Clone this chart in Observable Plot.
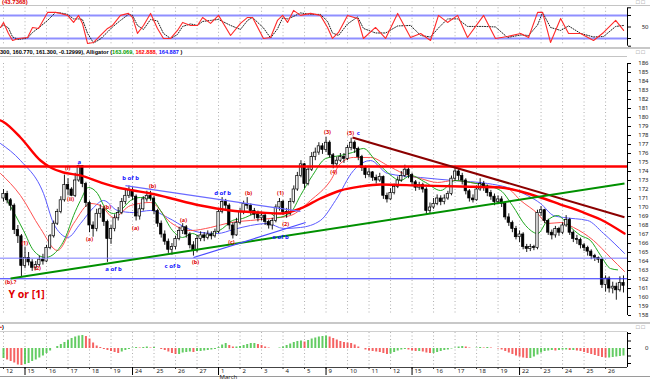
<!DOCTYPE html>
<html><head><meta charset="utf-8">
<script src="https://cdn.jsdelivr.net/npm/d3@7"></script>
<script src="https://cdn.jsdelivr.net/npm/@observablehq/plot@0.6"></script>
<style>
body{margin:0;background:#fff;}
#root{position:relative;width:650px;height:381px;overflow:hidden;background:#fff;font-family:"Liberation Sans",Arial,sans-serif;}
.t{position:absolute;white-space:nowrap;font-weight:bold;}
.ln{position:absolute;}
</style></head><body><div id="root"></div>
<script>
// ---------- data ----------
const dayLabels = ["12","15","16","17","18","19","24","25","26","27","1","2","3","4","5","9","10","11","12","15","16","17","18","19","22","23","24","25","26"];
const weekStarts = [1,6,10,15,19,24];
const marchIndex = 10;

const firstOpen = 171.0;
const closeP = [
171.5,170.8,170.2,167.5,166.8,163.5,164.4,163.9,163.3,163.6,
164.2,164.0,165.5,166.8,168.2,169.5,170.8,172.5,172.0,171.3,
173.0,174.6,172.6,170.5,168.0,167.6,169.3,169.8,168.4,166.5,
167.6,168.8,169.4,170.6,171.3,171.9,171.2,169.0,169.8,170.9,
171.3,171.0,169.6,168.2,167.0,166.2,165.3,165.6,166.5,167.4,
167.8,167.0,165.8,165.2,166.5,166.9,166.6,167.0,166.8,167.3,
169.5,170.6,170.2,168.0,166.9,168.3,169.5,170.4,170.2,169.6,
169.2,168.8,169.1,168.4,168.0,168.5,170.0,170.6,169.5,169.3,
170.6,172.0,173.5,174.8,172.6,174.2,175.6,176.1,176.8,176.4,
177.2,175.8,174.8,175.2,175.6,175.4,176.6,177.2,176.5,175.6,
174.4,173.6,173.9,173.3,173.0,173.4,171.3,170.9,171.6,172.3,
173.0,173.5,174.2,173.6,172.8,172.2,172.5,172.0,169.6,170.0,
170.4,171.0,170.6,171.0,171.5,173.2,174.0,173.5,173.0,171.8,
171.0,170.8,172.0,172.6,172.2,171.6,171.2,170.6,170.9,170.4,
168.9,168.3,167.6,166.7,167.0,165.6,165.4,165.6,165.5,169.4,
169.7,168.5,167.2,166.9,167.6,167.2,168.0,168.6,167.2,166.5,
166.4,165.8,165.5,165.1,164.6,164.4,164.2,161.4,162.1,161.0,
161.2,160.8,161.6,161.3];
const highP = [
172.0,171.8,171.0,170.4,168.0,167.0,165.6,165.0,164.2,164.0,
164.6,164.8,165.8,167.0,168.5,169.8,171.2,173.6,173.2,172.2,
173.8,174.7,174.5,172.8,170.7,168.4,169.8,170.3,170.1,168.6,
168.0,169.2,170.0,171.0,171.9,172.4,172.2,171.4,170.3,171.2,
171.8,171.8,171.2,169.8,168.5,167.4,166.5,166.0,166.8,167.8,
168.2,168.0,167.2,166.2,166.9,167.3,167.2,167.4,167.3,167.6,
169.9,171.1,170.9,170.4,168.3,168.8,169.9,170.7,171.1,170.4,
169.9,169.6,169.5,169.3,168.6,168.8,170.3,171.0,170.8,169.9,
171.0,172.4,173.9,175.2,174.9,174.6,176.1,176.6,177.2,177.1,
177.8,177.4,176.0,175.6,176.0,176.0,176.9,177.7,177.4,176.7,
175.8,174.6,174.3,174.0,173.6,173.8,173.5,171.6,172.1,172.6,
173.4,174.0,174.7,174.4,173.8,173.0,172.8,172.7,172.2,170.5,
171.0,171.4,171.3,171.4,171.8,173.5,174.4,174.2,173.8,173.2,
172.0,171.4,172.4,173.2,172.9,172.5,171.9,171.5,171.3,171.2,
170.6,169.3,168.5,167.9,167.4,167.2,165.9,165.9,165.8,169.7,
170.1,169.8,168.7,167.5,167.9,167.8,168.3,169.1,168.8,167.4,
166.9,166.6,166.0,165.7,165.3,164.8,164.5,164.3,162.4,162.3,
161.7,161.6,162.3,162.4];
const lowP = [
170.6,170.4,169.6,167.0,166.0,162.3,163.2,163.5,162.9,163.0,
163.4,163.6,163.9,165.3,166.6,168.0,169.3,170.6,171.3,171.2,
171.1,172.8,172.2,170.0,167.2,166.7,167.3,168.8,167.9,163.9,
165.9,167.3,168.5,169.2,170.3,171.0,170.8,168.5,168.6,169.6,
170.6,170.7,169.2,167.8,166.6,165.8,164.9,164.7,165.3,166.3,
167.0,166.6,165.4,164.6,165.0,166.2,166.2,166.4,166.4,166.6,
167.1,169.3,169.7,167.5,166.5,166.8,168.1,169.2,169.8,169.1,
168.7,168.4,168.5,168.0,167.6,167.5,168.3,169.6,169.1,168.8,
169.1,170.4,171.8,173.3,172.1,172.4,174.0,175.2,175.8,175.9,
176.1,175.5,174.3,174.5,175.0,174.9,175.2,176.3,176.0,175.2,
174.0,173.2,173.3,172.9,172.6,172.8,170.9,170.5,170.8,171.4,
172.1,172.8,173.3,173.2,172.4,171.8,171.9,171.6,169.2,169.3,
169.8,170.2,170.2,170.3,170.8,171.3,172.9,173.0,172.5,171.4,
170.6,170.5,170.7,171.8,171.8,171.2,170.8,170.2,170.3,170.0,
168.6,167.9,167.2,166.4,166.1,165.3,165.0,165.1,165.2,165.3,
169.0,168.2,166.9,166.4,166.6,166.8,167.0,167.8,166.9,166.1,
165.9,165.4,165.1,164.6,164.2,164.0,163.8,161.0,160.6,160.5,
160.4,159.7,160.6,160.5];
const barsPerDay = 6;

// long moving average (thick red)
const maDay = [-0.14,0,0.79,1.72,2.19,2.79,3.58,4.51,5.30,6.05,6.84,7.63,9.16,10.56,11.95,12.88,13.81,14.74,15.67,16.6,17.53,19.4,21.26,23.12,24.05,24.98,25.91,26.84,27.77,28.88];
const maPrice = [179.67,179.5,177.78,175.22,174.44,173.89,173.56,172.78,172.22,171.89,171.56,171.11,170.22,169.67,169.44,169.33,169.89,171.0,171.89,172.33,172.56,172.44,172.33,172.22,171.78,171.11,170.33,169.56,168.67,167.11];

// Alligator
const jawDay = [-0.14,0.79,1.86,2.33,2.65,2.98,3.58,4.19,4.65,5.30,6.05,6.84,7.63,8.56,9.16,9.95,10.70,11.49,12.28,13.02,13.81,14.74,15.44,16.28,17.07,17.86,19.40,20.93,22.51,23.44,24.37,24.98,25.58,26.05,27.16,27.91,28.88];
const jawPrice = [177.11,175.22,171.56,168.22,167.11,166.67,168.22,170.0,170.78,169.67,169.44,169.67,168.89,167.67,167.22,167.11,167.56,168.0,168.22,167.67,167.78,168.56,170.78,174.11,175.22,173.78,173.33,173.0,172.67,172.22,171.33,170.44,169.11,168.89,168.56,167.11,164.9];
const teethDay = [-0.14,0.79,1.72,2.51,3.26,4.05,4.51,5.12,5.91,6.84,7.77,8.70,9.63,10.56,11.49,12.42,13.35,14.28,15.21,15.67,16.28,17.07,17.86,18.60,19.40,20.19,20.93,21.72,22.51,23.44,24.05,24.84,25.30,25.91,26.51,27.44,28.23,28.88];
const teethPrice = [173.78,171.33,167.67,165.22,168.22,170.44,170.22,168.89,170.22,170.56,168.33,167.44,167.78,168.33,168.56,168.78,169.11,170.78,173.0,174.89,175.56,175.56,174.67,173.78,173.22,172.78,173.0,172.78,172.44,172.11,170.78,169.33,168.22,168.33,167.78,166.33,164.44,162.9];
const lipsDay = [0.09,0.56,0.93,1.40,1.95,2.42,2.88,3.26,3.58,3.95,4.37,4.74,5.12,5.44,5.91,6.37,6.84,7.30,7.86,8.33,8.79,9.16,9.49,10.19,10.65,11.12,11.72,12.33,12.74,13.35,13.81,14.37,14.98,15.67,16.23,16.74,17.30,17.86,18.47,18.93,19.63,20.33,21.02,21.72,22.42,23.12,23.67,24.28,24.84,25.30,25.77,26.28,26.84,27.30,27.77,28.23,28.56];
const lipsPrice = [171.11,169.11,167.44,165.22,164.44,165.0,166.67,169.11,170.78,172.22,171.56,169.89,169.33,169.67,170.78,171.11,171.0,169.67,167.44,166.67,167.11,166.78,166.89,167.67,168.56,168.78,169.33,169.44,168.89,169.44,171.33,173.56,175.44,175.78,176.11,176.56,175.22,173.89,173.0,173.56,172.78,171.89,173.0,172.78,172.44,171.89,170.22,168.0,167.11,168.56,169.11,168.0,166.89,166.33,164.67,163.22,163.07];

// trend lines (from -> to)
const trendNames = ["brown","green","blueUpper","blueLower"];
const trendDay1 = [16.23,0.33,5.67,8.84];
const trendPrice1 = [177.78,162.11,172.44,164.44];
const trendDay2 = [28.88,28.88,13.81,14.05];
const trendPrice2 = [168.92,172.67,169.56,168.33];

// horizontal levels
const redLevels = [174.55];
const blueLevels = [164.37,162.08];

// wave annotations
const redNoteText = ["(1)","(2)","(b).?","(i)","(ii)","(a)","(b)","(a)","(b)","(a)","(b)","(c)","(b)","(1)","(2)","(3)","(4)","(5)"];
const redNoteDay = [0.98,1.58,0.33,2.98,3.12,4.0,4.84,6.14,6.93,8.37,8.93,10.6,11.4,12.88,13.12,15.07,15.35,16.14];
const redNotePrice = [166.0,163.22,161.75,174.33,170.89,166.44,170.0,167.67,172.33,168.56,163.89,166.11,171.56,171.56,168.11,178.33,173.89,178.22];
const blueNoteText = ["a","b of b","d of b","a of b","c of b","e of b","c"];
const blueNoteDay = [3.53,5.91,10.19,5.12,7.86,12.88,16.5];
const blueNotePrice = [175.0,173.22,171.56,163.11,163.44,166.67,178.22];
const bigNote = "Y or [1]";
const bigNoteDay = 0.23;
const bigNotePrice = 160.3;

// stochastic (%K)
const stochDay = [-0.14,0,0.23,0.42,0.70,1.12,1.35,1.63,2.05,2.42,2.65,2.98,3.26,3.49,3.67,3.91,4.19,4.51,4.84,5.07,5.44,5.81,6.0,6.23,6.51,6.84,7.16,7.44,7.77,8.09,8.33,8.70,9.02,9.26,9.63,10.0,10.56,11.02,11.35,11.58,12.09,12.42,12.74,12.98,13.21,13.49,13.81,14.28,14.74,15.07,15.30,15.58,16.0,16.47,16.74,17.30,17.77,18.33,18.93,19.40,19.86,20.23,20.65,21.12,21.58,22.33,22.88,23.44,24.05,24.42,24.84,25.07,25.44,25.91,26.28,26.84,27.44,27.91,28.47,28.84];
const stochK = [48.8,61.9,33.2,14.9,20.1,22.7,48.8,46.2,88.0,88.0,85.4,80.2,61.9,80.2,59.3,7.0,9.7,27.9,46.2,54.0,80.2,85.4,74.9,33.2,54.0,85.4,46.2,20.1,20.1,41.0,61.9,54.0,54.0,74.9,59.3,80.2,27.9,59.3,74.9,74.9,20.1,22.7,67.1,80.2,61.9,93.2,80.2,85.4,80.2,48.8,20.1,35.8,80.2,72.3,20.1,48.8,20.1,85.4,22.7,33.2,14.9,80.2,61.9,80.2,22.7,80.2,20.1,25.3,33.2,22.7,88.0,88.0,9.7,72.3,33.2,33.2,14.9,35.8,67.1,41.0];
const stochLevels = [80,20];

// awesome oscillator (one value per bar)
const aoValues = [
-2.0,-2.3,-2.6,-2.9,-3.3,-3.4,-3.2,-3.0,-2.6,-2.3,
-1.9,-1.5,-1.0,-0.5,0.0,0.4,0.8,1.2,1.6,2.0,
2.3,2.5,2.6,2.4,1.9,1.1,0.5,0.2,-0.2,-0.4,
-0.6,-0.8,-1.0,-0.7,-0.4,-0.2,0.1,0.2,0.1,0.2,
0.3,0.1,0.2,0.0,-0.2,-0.4,-0.7,-1.0,-1.2,-1.2,
-0.9,-0.8,-0.7,-0.8,-0.6,-0.6,-0.5,-0.4,-0.3,-0.2,
0.2,0.7,1.0,0.6,0.3,0.3,0.4,0.6,0.8,1.0,
1.0,0.8,0.6,0.3,0.1,0.0,0.0,0.1,0.3,0.6,
0.9,1.2,1.4,1.5,1.3,1.6,1.9,2.1,2.3,2.4,
2.5,2.3,2.0,1.7,1.4,1.2,1.1,1.0,0.7,0.3,
0.0,-0.3,-0.5,-0.6,-0.7,-0.8,-1.0,-1.2,-1.1,-0.8,
-0.5,-0.3,-0.2,-0.3,-0.5,-0.6,-0.6,-0.7,-0.9,-1.0,
-1.0,-0.8,-0.6,-0.4,-0.3,-0.1,0.1,0.3,0.4,0.3,
0.1,0.0,0.1,0.2,0.1,0.2,0.1,0.0,-0.1,-0.3,
-0.6,-0.9,-1.2,-1.5,-1.7,-1.9,-2.0,-2.0,-1.7,-1.3,
-0.9,-0.6,-0.5,-0.4,-0.5,-0.4,-0.3,-0.3,-0.4,-0.4,
-0.5,-0.6,-0.8,-1.0,-1.2,-1.4,-1.6,-1.8,-1.9,-1.9,
-1.8,-1.7,-1.6,-1.5];

// header texts
const stochHeader = "(43.7368)";
const priceHeader = "300, 160.770, 161.300, -0.12999), Alligator (";
const alligatorVals = ["163.069,", " 162.888,", " 164.887"];

// ---------- build ----------
const root = document.getElementById("root");
const xDomain = [-0.14, 29.02];
const W = 650, MR = 23;
const dayIdx = dayLabels.map((d, i) => i);
const xRight = xDomain[1];

const bars = closeP.map((c, i) => ({
  t: i / barsPerDay, o: i ? closeP[i - 1] : firstOpen, h: highP[i], l: lowP[i], c
}));
const series = (days, prices) => days.map((t, i) => ({t, p: prices[i]}));
const trends = trendNames.map((n, i) => ({n, t1: trendDay1[i], p1: trendPrice1[i], t2: trendDay2[i], p2: trendPrice2[i]}));
const trendColor = {brown: "#8b0000", green: "#009000", blueUpper: "#6a6aff", blueLower: "#4a4aff"};
const trendWidth = {brown: 2, green: 2, blueUpper: 1.2, blueLower: 1.2};

function place(el, top) {
  el.style.position = "absolute"; el.style.left = "0px"; el.style.top = top + "px";
  root.appendChild(el);
}
function line(top, left, width, h, color) {
  const d = document.createElement("div");
  d.className = "ln";
  Object.assign(d.style, {top: top + "px", left: left + "px", width: width + "px", height: h + "px", background: color});
  root.appendChild(d);
}
function txt(html, left, top, size, color, extra) {
  const d = document.createElement("div");
  d.className = "t"; d.innerHTML = html;
  Object.assign(d.style, {left: left + "px", top: top + "px", fontSize: size + "px", color: color || "#000"}, extra || {});
  root.appendChild(d);
}
const grid = () => Plot.ruleX(dayIdx, {x: d => d, stroke: "#9a9a9a", strokeWidth: 0.8, strokeDasharray: "1,2.5"});
const rightEdge = () => Plot.ruleX([xRight], {x: d => d, stroke: "#000", strokeWidth: 1});

// stochastic panel
const stochData = series(stochDay, stochK);
const stoch = Plot.plot({
  width: W, height: 47, marginLeft: 0, marginRight: MR, marginTop: 7.3, marginBottom: 1.3,
  x: {domain: xDomain, axis: null, label: null}, y: {domain: [0, 100], axis: null, label: null},
  style: {background: "transparent"},
  marks: [
    grid(),
    Plot.ruleY(stochLevels, {y: d => d, stroke: "#8f8fff", strokeWidth: 2}),
    Plot.line(stochData, Plot.windowY({k: 2, anchor: "end"}, {x: "t", y: "p", stroke: "#222", strokeWidth: 1, strokeDasharray: "1,1.5"})),
    Plot.line(stochData, {x: "t", y: "p", stroke: "#ff2a2a", strokeWidth: 1.1}),
    rightEdge(),
    Plot.axisY({anchor: "right", label: null, ticks: [0, 20, 50, 80, 100], tickSize: 3, tickPadding: 18, textAnchor: "end",
      tickFormat: d => d === 50 ? "50" : "", fontSize: 6, fill: "#222"})
  ]
});

// price panel
const price = Plot.plot({
  width: W, height: 266, marginLeft: 0, marginRight: MR, marginTop: 7, marginBottom: 7,
  x: {domain: xDomain, axis: null, label: null}, y: {domain: [158, 186], axis: null, label: null},
  style: {background: "transparent"},
  marks: [
    grid(),
    Plot.line(series(jawDay, jawPrice), {x: "t", y: "p", stroke: "#5a5aff", strokeWidth: 1, curve: "monotone-x"}),
    Plot.line(series(teethDay, teethPrice), {x: "t", y: "p", stroke: "#ff5050", strokeWidth: 1, curve: "monotone-x"}),
    Plot.line(series(lipsDay, lipsPrice), {x: "t", y: "p", stroke: "#1fa81f", strokeWidth: 1, curve: "monotone-x"}),
    Plot.ruleX(bars, {x: "t", y1: "l", y2: "h", stroke: "#000", strokeWidth: 0.9}),
    Plot.rect(bars, {x1: d => d.t - 0.055, x2: d => d.t + 0.055, y1: "o", y2: "c",
      fill: d => d.c >= d.o ? "#f4f4f4" : "#000", stroke: "#000", strokeWidth: 0.7}),
    Plot.ruleY(redLevels, {y: d => d, stroke: "#ff0000", strokeWidth: 2.5}),
    Plot.ruleY(blueLevels, {y: d => d, stroke: (d, i) => i ? "#2b2bff" : "#7a7aff", strokeWidth: 1}),
    Plot.line(series(maDay, maPrice), {x: "t", y: "p", stroke: "#ff0000", strokeWidth: 2.4, curve: "monotone-x"}),
    Plot.link(trends, {x1: "t1", y1: "p1", x2: "t2", y2: "p2", stroke: d => trendColor[d.n], strokeWidth: d => trendWidth[d.n]}),
    Plot.text(redNoteText, {x: (d, i) => redNoteDay[i], y: (d, i) => redNotePrice[i], text: d => d,
      fill: "#e00000", fontSize: 5.5, fontWeight: "bold"}),
    Plot.text(blueNoteText, {x: (d, i) => blueNoteDay[i], y: (d, i) => blueNotePrice[i], text: d => d,
      fill: "#1010ff", fontSize: 6, fontWeight: "bold"}),
    Plot.text([bigNote], {x: () => bigNoteDay, y: () => bigNotePrice, text: d => d, textAnchor: "start",
      fill: "#e00000", fontSize: 10.5, fontWeight: "bold"}),
    rightEdge(),
    Plot.axisY({anchor: "right", label: null, ticks: d3.range(158, 187), tickSize: 3, tickPadding: 18, textAnchor: "end",
      fontSize: 6, fill: "#222", tickFormat: d => String(d)})
  ]
});

// AO panel + date axis
const aoData = aoValues.map((v, i) => ({t: i / barsPerDay, v, up: i === 0 || v >= aoValues[i - 1]}));
const ao = Plot.plot({
  width: W, height: 51, marginLeft: 0, marginRight: MR, marginTop: 2, marginBottom: 14,
  x: {domain: xDomain, axis: null, label: null}, y: {domain: [-3.8, 3.2], axis: null, label: null},
  style: {background: "transparent", overflow: "visible"},
  marks: [
    grid(),
    Plot.ruleX(aoData, {x: "t", y1: 0, y2: "v", stroke: d => d.up ? "#3cbf3c" : "#f23c3c", strokeWidth: 2, strokeOpacity: 0.8}),
    rightEdge(),
    Plot.axisY({anchor: "right", label: null, ticks: [-3, -1.5, 0, 1.5, 3], tickSize: 3, tickPadding: 18, textAnchor: "end",
      tickFormat: d => d === 0 ? "0" : "", fontSize: 6, fill: "#222"}),
    Plot.axisX({anchor: "bottom", label: null, ticks: dayIdx, tickSize: 2, tickFormat: () => "", stroke: "#333"}),
    Plot.axisX({anchor: "bottom", label: null, ticks: weekStarts, tickSize: 8, tickFormat: () => "", stroke: "#000"}),
    Plot.text(dayIdx, {x: d => d, text: d => dayLabels[d], frameAnchor: "bottom", dy: 5, dx: 2.5,
      textAnchor: "start", fontSize: 6, fill: "#222"}),
    Plot.text([marchIndex], {x: d => d, text: () => "March", frameAnchor: "bottom", dy: 11.5, dx: 1,
      textAnchor: "start", fontSize: 6, fill: "#222"})
  ]
});

// frame lines & separators
line(5, 0, 650, 1, "#c4c4c4");
line(47, 0, 650, 2, "#c8c8c8");
line(56, 0, 627, 1, "#c4c4c4");
line(322, 0, 650, 2, "#c8c8c8");
line(331, 0, 627, 1, "#d0d0d0");
line(366.5, 0, 627, 1, "#444");
line(375.5, 0, 650, 1, "#9a9a9a");

place(stoch, 0);
place(price, 56);
place(ao, 330);

// headers
txt(stochHeader, 2, -1.5, 6, "#e00000");
txt(priceHeader + '<span style="color:#00a000">' + alligatorVals[0] + '</span><span style="color:#ff0000">' + alligatorVals[1] +
  '</span><span style="color:#1010ff">' + alligatorVals[2] + '</span> )', 0, 49.2, 5.6, "#000");
txt('<span style="color:#e00000">&#8226;</span>)', 0, 323.5, 5.6, "#000");
txt("&#9633; &#9633;", 636, -1, 6, "#777", {fontWeight: "normal"});
txt("&#9633; &#9633;", 636, 49, 6, "#777", {fontWeight: "normal"});
txt("&#9633; &#9633;", 636, 324, 6, "#777", {fontWeight: "normal"});
</script>
</body></html>
